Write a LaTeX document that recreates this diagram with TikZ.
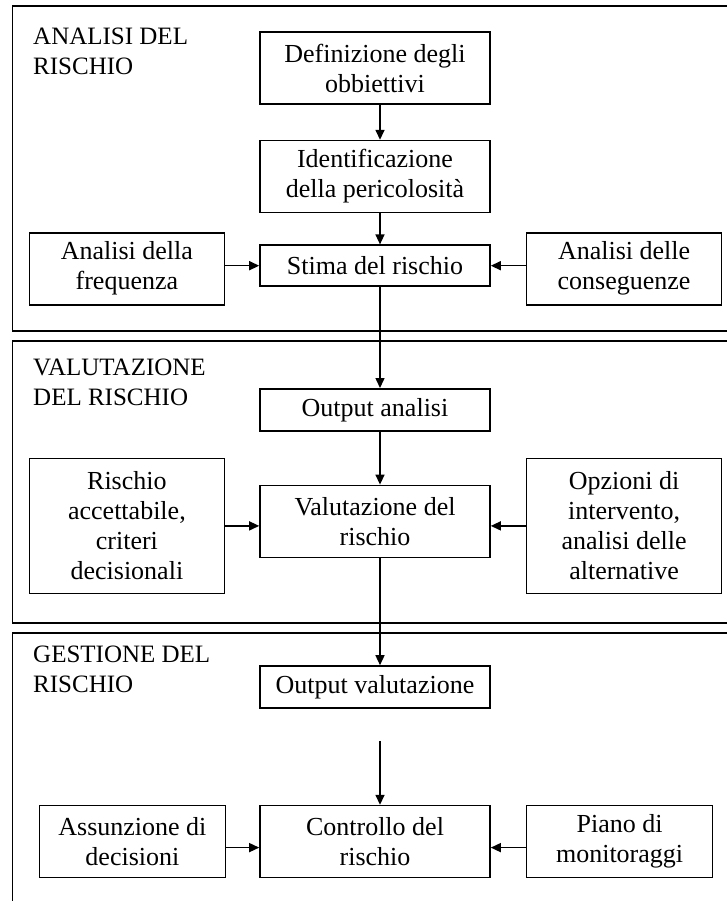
\documentclass[tikz,border=0pt]{standalone}
\usepackage{fontspec}
\setmainfont{Liberation Serif}
\usepackage{tikz}
\usetikzlibrary{arrows.meta,positioning}

\begin{document}
\begin{tikzpicture}[
x=1pt, y=-1pt,
block/.style={draw, line width=1.6pt, minimum width=230pt, minimum height=72pt, inner sep=0pt, align=center, font=\fontsize{26}{30}\selectfont},
side/.style={block, minimum width=195pt},
title/.style={anchor=base west, align=left, inner sep=0pt, font=\fontsize{25}{30}\selectfont},
frame/.style={draw, line width=1.9pt},
arrow/.style={-{Triangle[length=10pt,width=9pt]}, line width=1.5pt}
]
\useasboundingbox (0,0) rectangle (727,901);

% Section frames (cut off on the right)
\draw[frame] (12.5,6) rectangle (760,331);
\draw[frame] (12.5,341) rectangle (760,623);
\draw[frame] (12.5,633) rectangle (760,940);

% Section titles (base = last line)
\node[title] (tanalisi) at (33,75) {ANALISI DEL\\RISCHIO};
\node[title] (tvalut) at (33,405) {VALUTAZIONE\\DEL RISCHIO};
\node[title] (tgest) at (33,692) {GESTIONE DEL\\RISCHIO};

% Analisi del rischio
\node[block] (def) at (375,68) {Definizione degli\\obbiettivi};
\node[block, below=35pt of def] (ident) {Identificazione\\della pericolosità};
\node[block, minimum height=41pt, below=31pt of ident] (stima) {Stima del rischio};
\node[side, left=34pt of stima, yshift=-3pt] (freq) {Analisi della\\frequenza};
\node[side, right=35pt of stima, yshift=-3pt] (cons) {Analisi delle\\conseguenze};

% Valutazione del rischio
\node[block, minimum height=42pt, below=101pt of stima] (outan) {Output analisi};
\node[block, below=53pt of outan] (valut) {Valutazione del\\rischio};
\node[side, minimum height=135pt, left=34pt of valut, yshift=-4.5pt] (accett) {Rischio\\accettabile,\\criteri\\decisionali};
\node[side, minimum height=135pt, right=35pt of valut, yshift=-4.5pt] (opzioni) {Opzioni di\\intervento,\\analisi delle\\alternative};

% Gestione del rischio
\node[block, minimum height=42pt, below=107pt of valut] (outval) {Output valutazione};
\coordinate[below=32pt of outval] (gap);
\node[block, below=96pt of outval] (contr) {Controllo del\\rischio};
\node[side, minimum width=186pt, left=33pt of contr] (assunz) {Assunzione di\\decisioni};
\node[side, minimum width=186pt, right=35pt of contr] (piano) {Piano di\\monitoraggi};

% Vertical arrows
\draw[arrow] ([xshift=5pt]def.south) -- ([xshift=5pt]ident.north);
\draw[arrow] ([xshift=5pt]ident.south) -- ([xshift=5pt]stima.north);
\draw[arrow] ([xshift=5pt]stima.south) -- ([xshift=5pt]outan.north);
\draw[arrow] ([xshift=5pt]outan.south) -- ([xshift=5pt]valut.north);
\draw[arrow] ([xshift=5pt]valut.south) -- ([xshift=5pt]outval.north);
\draw[arrow] ([xshift=5pt]gap) -- ([xshift=5pt]contr.north);

% Horizontal arrows
\draw[arrow] (stima.west -| freq.east) -- (stima.west);
\draw[arrow] (stima.east -| cons.west) -- (stima.east);
\draw[arrow] (accett.east) -- (accett.east -| valut.west);
\draw[arrow] (opzioni.west) -- (opzioni.west -| valut.east);
\draw[arrow] ([yshift=-6pt]assunz.east) -- ([yshift=-6pt]assunz.east -| contr.west);
\draw[arrow] ([yshift=-6pt]piano.west) -- ([yshift=-6pt]piano.west -| contr.east);

\end{tikzpicture}
\end{document}
